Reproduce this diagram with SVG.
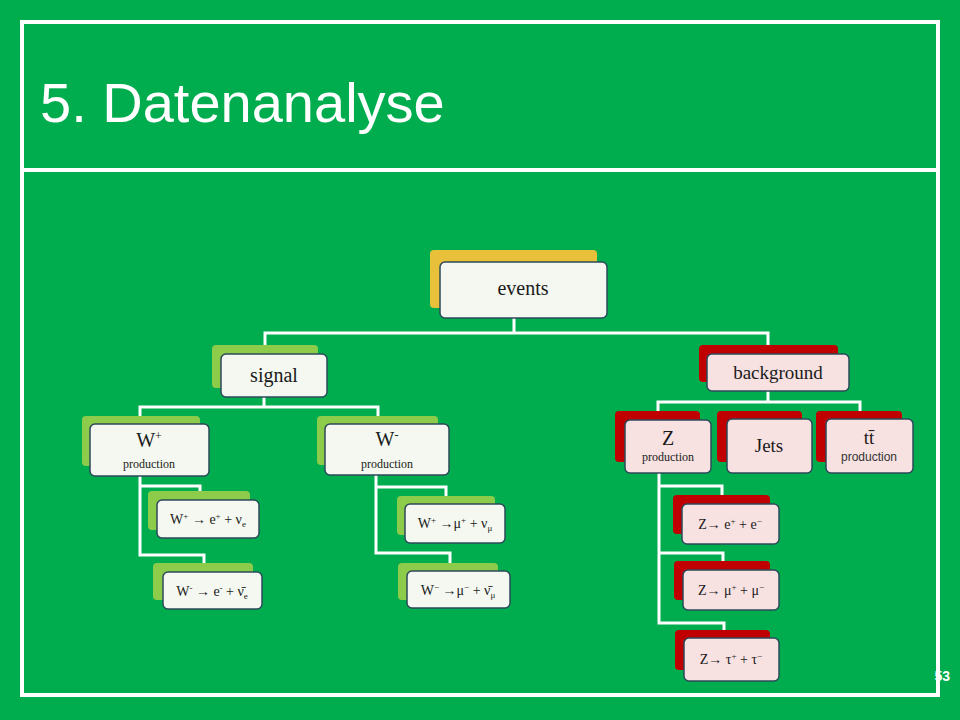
<svg xmlns="http://www.w3.org/2000/svg" width="960" height="720" viewBox="0 0 960 720">
<style>
.bk{stroke:none}
.y{fill:#E9C03A}.g{fill:#8DCB4B}.r{fill:#C00000}
.fw{fill:#F4F8F0;stroke:#2E4A5A;stroke-width:1.5}
.fr{fill:#F7E1E1;stroke:#2E4A5A;stroke-width:1.5}
.t{font-family:"Liberation Serif",serif;fill:#1a1a1a;text-anchor:middle}
.s{font-family:"Liberation Sans",sans-serif;fill:#333;text-anchor:middle}
#conn path{fill:none;stroke:#fff;stroke-width:3}
</style>
<rect width="960" height="720" fill="#00AD4E"/>
<rect x="22" y="22" width="916" height="673" fill="none" stroke="#fff" stroke-width="4"/>
<line x1="22" y1="170" x2="938" y2="170" stroke="#fff" stroke-width="4"/>
<text x="40" y="122" font-family="Liberation Sans,sans-serif" font-size="56" fill="#fff">5. Datenanalyse</text>
<text x="950" y="681" font-family="Liberation Sans,sans-serif" font-size="14" font-weight="bold" fill="#fff" text-anchor="end">53</text>
<g id="conn">
<path d="M514 318V333M265 345V333H768V345"/>
<path d="M264 397V407M140 416V407H378V416"/>
<path d="M140 476V555H204V563M140 486H200V491"/>
<path d="M376 475V553H450V563M376 487H446V496"/>
<path d="M768 391V402M658 411V402H860V411"/>
<path d="M659 473V623H724V630M659 486H722V495M659 553H723V561"/>
</g>
<g id="events"><rect class="bk y" x="430" y="250" width="167" height="58" rx="4"/><rect class="fw" x="440" y="262" width="167" height="56" rx="5"/><text class="t" x="523" y="295" font-size="20">events</text></g>
<g id="signal"><rect class="bk g" x="212" y="345" width="106" height="43" rx="4"/><rect class="fw" x="221" y="354" width="106" height="43" rx="5"/><text class="t" x="274" y="382" font-size="20">signal</text></g>
<g id="wplus"><rect class="bk g" x="82" y="416" width="118" height="50" rx="4"/><rect class="fw" x="90" y="424" width="119" height="52" rx="5"/><text class="t" x="149" y="447" font-size="20">W<tspan font-size="12" dy="-7">+</tspan></text><text class="t" x="149" y="468" font-size="12">production</text></g>
<g id="wminus"><rect class="bk g" x="317" y="416" width="121" height="49" rx="4"/><rect class="fw" x="325" y="424" width="124" height="51" rx="5"/><text class="t" x="387" y="446" font-size="20">W<tspan font-size="12" dy="-7">-</tspan></text><text class="t" x="387" y="468" font-size="12">production</text></g>
<g id="wpe"><rect class="bk g" x="148" y="491" width="102" height="39" rx="4"/><rect class="fw" x="157" y="500" width="102" height="38" rx="5"/><text class="t" x="208" y="524" font-size="14">W<tspan font-size="9" dy="-5">+</tspan><tspan dy="5"> → e</tspan><tspan font-size="9" dy="-5">+</tspan><tspan dy="5"> + ν</tspan><tspan font-size="9" dy="3">e</tspan></text></g>
<g id="wme"><rect class="bk g" x="153" y="563" width="100" height="37" rx="4"/><rect class="fw" x="163" y="572" width="99" height="37" rx="5"/><text class="t" x="212" y="596" font-size="14">W<tspan font-size="9" dy="-5">-</tspan><tspan dy="5"> → e</tspan><tspan font-size="9" dy="-5">-</tspan><tspan dy="5"> + ν̄</tspan><tspan font-size="9" dy="3">e</tspan></text></g>
<g id="wpmu"><rect class="bk g" x="397" y="496" width="98" height="39" rx="4"/><rect class="fw" x="405" y="504" width="100" height="39" rx="5"/><text class="t" x="455" y="528" font-size="14">W<tspan font-size="9" dy="-5">+</tspan><tspan dy="5"> →μ</tspan><tspan font-size="9" dy="-5">+</tspan><tspan dy="5"> + ν</tspan><tspan font-size="9" dy="3">μ</tspan></text></g>
<g id="wmmu"><rect class="bk g" x="398" y="563" width="100" height="37" rx="4"/><rect class="fw" x="407" y="571" width="103" height="37" rx="5"/><text class="t" x="458" y="595" font-size="14">W<tspan font-size="9" dy="-5">−</tspan><tspan dy="5"> →μ</tspan><tspan font-size="9" dy="-5">−</tspan><tspan dy="5"> + ν̄</tspan><tspan font-size="9" dy="3">μ</tspan></text></g>
<g id="background"><rect class="bk r" x="699" y="345" width="139" height="37" rx="4"/><rect class="fr" x="707" y="354" width="142" height="37" rx="5"/><text class="t" x="778" y="379" font-size="19">background</text></g>
<g id="zprod"><rect class="bk r" x="615" y="411" width="85" height="51" rx="4"/><rect class="fr" x="625" y="420" width="86" height="53" rx="5"/><text class="t" x="668" y="445" font-size="20">Z</text><text class="t" x="668" y="461" font-size="12">production</text></g>
<g id="jets"><rect class="bk r" x="717" y="411" width="85" height="51" rx="4"/><rect class="fr" x="727" y="419" width="85" height="54" rx="5"/><text class="t" x="769" y="452" font-size="19">Jets</text></g>
<g id="ttbar"><rect class="bk r" x="816" y="411" width="86" height="51" rx="4"/><rect class="fr" x="826" y="419" width="87" height="54" rx="5"/><text class="t" x="869" y="444" font-size="19">tt̄</text><text class="s" x="869" y="461" font-size="12">production</text></g>
<g id="zee"><rect class="bk r" x="673" y="495" width="97" height="39" rx="4"/><rect class="fr" x="682" y="504" width="97" height="40" rx="5"/><text class="t" x="730" y="529" font-size="14">Z→  e<tspan font-size="9" dy="-5">+</tspan><tspan dy="5"> + e</tspan><tspan font-size="9" dy="-5">−</tspan></text></g>
<g id="zmumu"><rect class="bk r" x="674" y="561" width="96" height="39" rx="4"/><rect class="fr" x="683" y="570" width="96" height="40" rx="5"/><text class="t" x="731" y="595" font-size="14">Z→  μ<tspan font-size="9" dy="-5">+</tspan><tspan dy="5"> + μ</tspan><tspan font-size="9" dy="-5">−</tspan></text></g>
<g id="ztautau"><rect class="bk r" x="675" y="630" width="95" height="40" rx="4"/><rect class="fr" x="684" y="638" width="95" height="43" rx="5"/><text class="t" x="731" y="664" font-size="14">Z→  τ<tspan font-size="9" dy="-5">+</tspan><tspan dy="5"> + τ</tspan><tspan font-size="9" dy="-5">−</tspan></text></g>
</svg>
